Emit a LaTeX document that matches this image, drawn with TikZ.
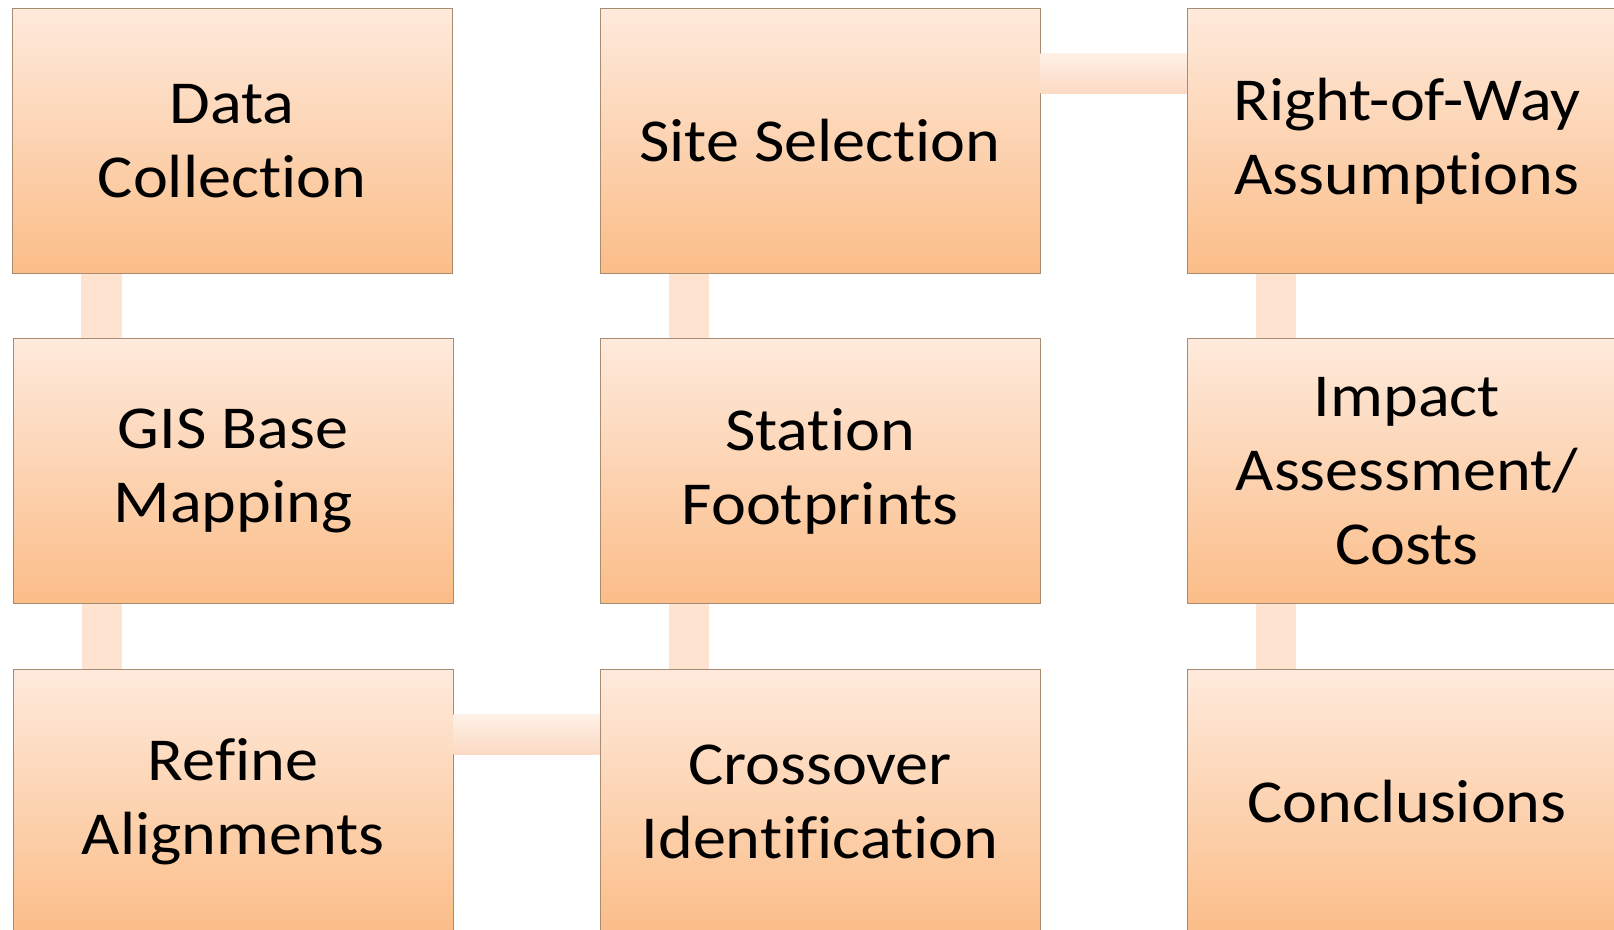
\documentclass[tikz,border=0pt]{standalone}
\usepackage{fontspec}
\setmainfont{Carlito}[FakeStretch=1.085, Ligatures={NoCommon}]
\definecolor{boxtop}{HTML}{FEEADC}
\definecolor{boxbot}{HTML}{FBBD88}
\definecolor{boxedge}{HTML}{A88C72}
\definecolor{vconn}{HTML}{FDE3D0}
\definecolor{hctop}{HTML}{FEF1E7}
\definecolor{hcbot}{HTML}{FBDAC3}
\tikzset{
  stepbox/.style={rectangle, draw=boxedge, line width=1pt, top color=boxtop, bottom color=boxbot,
    minimum width=440pt, minimum height=265pt, inner sep=0pt, align=center,
    font=\fontsize{61}{74}\selectfont},
  vlink/.style={fill=vconn},
  hlink/.style={top color=hctop, bottom color=hcbot, draw=none},
}
\begin{document}
\begin{tikzpicture}[x=1pt,y=-1pt]
\useasboundingbox (0,0) rectangle (1614,929);
\clip (0,0) rectangle (1614,929);
\fill[white] (0,0) rectangle (1614,929);
% nodes
\node[stepbox] (dc) at (232,141) {Data\\Collection};
\node[stepbox] (gis) at (233,471) {GIS Base\\Mapping};
\node[stepbox] (ra) at (233,802) {Refine\\Alignments};
\node[stepbox] (ss) at (820,141) {Site Selection};
\node[stepbox] (sf) at (820,471) {Station\\Footprints};
\node[stepbox] (ci) at (820,802) {Crossover\\Identification};
\node[stepbox] (rw) at (1407,141) {Right-of-Way\\Assumptions};
\node[stepbox] (ia) at (1407,471) {Impact\\Assessment/\\Costs};
\node[stepbox] (cn) at (1407,802) {Conclusions};
% connectors
\fill[vlink] ([xshift=69pt]dc.south west) rectangle ([xshift=109pt]gis.north west);
\fill[vlink] ([xshift=69pt]gis.south west) rectangle ([xshift=109pt]ra.north west);
\shade[hlink] ([yshift=-45pt]ra.north east) rectangle ([yshift=-85pt]ci.north west);
\fill[vlink] ([xshift=69pt]ci.north west) rectangle ([xshift=109pt]sf.south west);
\fill[vlink] ([xshift=69pt]sf.north west) rectangle ([xshift=109pt]ss.south west);
\shade[hlink] ([yshift=-45pt]ss.north east) rectangle ([yshift=-85pt]rw.north west);
\fill[vlink] ([xshift=69pt]rw.south west) rectangle ([xshift=109pt]ia.north west);
\fill[vlink] ([xshift=69pt]ia.south west) rectangle ([xshift=109pt]cn.north west);
\end{tikzpicture}
\end{document}
